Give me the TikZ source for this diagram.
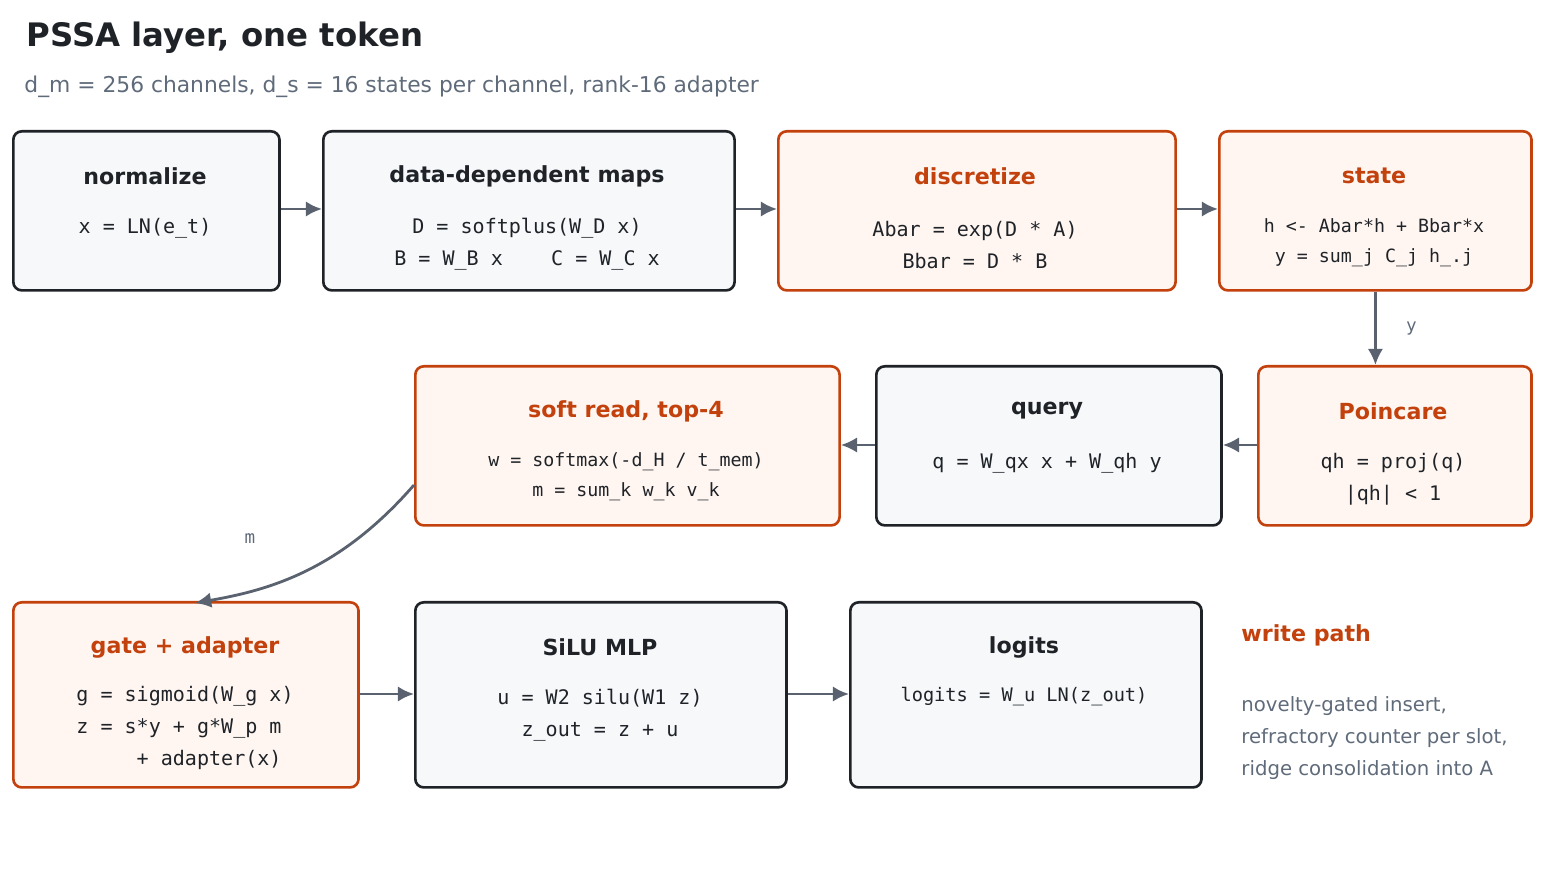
\documentclass[tikz,border=0pt]{standalone}
\usepackage{fontspec}
\setmainfont{DejaVu Sans}
\setmonofont{DejaVu Sans Mono}
\usetikzlibrary{arrows.meta}
\definecolor{ink}{HTML}{1F2328}
\definecolor{rust}{HTML}{C2410C}
\definecolor{rustbg}{HTML}{FFF6F1}
\definecolor{greybg}{HTML}{F6F8FA}
\definecolor{wire}{HTML}{5A6270}
\definecolor{muted}{HTML}{5F6B7A}
\tikzset{
  box/.style={draw=ink, fill=greybg, line width=0.75pt, rounded corners=2.4pt, anchor=north west, inner sep=0pt},
  hot/.style={box, draw=rust, fill=rustbg},
  head/.style={font=\bfseries\fontsize{6.3}{7}\selectfont, text=ink},
  hothead/.style={head, text=rust},
  code/.style={font=\ttfamily\fontsize{5.7}{9}\selectfont, text=ink, align=center},
  link/.style={draw=wire, line width=0.8pt, -{Latex[length=4.6pt,width=4.4pt]}},
  tag/.style={font=\ttfamily\fontsize{5}{6}\selectfont, text=muted}
}
\begin{document}
\begin{tikzpicture}[x=0.01cm, y=-0.01cm]
		\useasboundingbox (0,0) rectangle (1549,871);
		
		\node[anchor=west, font=\bfseries\fontsize{9.2}{11}\selectfont, text=ink] at (14, 38) {PSSA layer, one token};
		\node[anchor=west, font=\fontsize{6.2}{7}\selectfont, text=muted] at (12, 87) {d\_m = 256 channels, d\_s = 16 states per channel, rank-16 adapter};
		
		% row one
		\node[box, minimum width=2.66cm, minimum height=1.59cm] (norm) at (12, 130) {};
		\node[box, minimum width=4.11cm, minimum height=1.59cm] (maps) at (322, 130) {};
		\node[hot, minimum width=3.97cm, minimum height=1.59cm] (disc) at (777, 130) {};
		\node[hot, minimum width=3.12cm, minimum height=1.59cm] (state) at (1218, 130) {};
		
		\node[head] at (145, 176) {normalize};
		\node[code] at (145, 228) {x = LN(e\_t)};
		\node[head] at (527, 176) {data-dependent maps};
		\node[code] at (527, 244) {D = softplus(W\_D x)\\B = W\_B x \ \ \ C = W\_C x};
		\node[hothead] at (975, 176) {discretize};
		\node[code] at (975, 245) {Abar = exp(D * A)\\Bbar = D * B};
		\node[hothead] at (1374, 176) {state};
		\node[code, font=\ttfamily\fontsize{5.2}{8.5}\selectfont] at (1374, 243) {h <- Abar*h + Bbar*x\\y = sum\_j C\_j h\_.j};
		
		% row two
		\node[hot, minimum width=4.24cm, minimum height=1.59cm] (read) at (414, 365) {};
		\node[box, minimum width=3.45cm, minimum height=1.59cm] (query) at (875, 365) {};
		\node[hot, minimum width=2.73cm, minimum height=1.59cm] (poinc) at (1257, 365) {};
		
		\node[hothead] at (626, 411) {soft read, top-4};
		\node[code, font=\ttfamily\fontsize{5.2}{8.5}\selectfont] at (626, 477) {w = softmax(-d\_H / t\_mem)\\m = sum\_k w\_k v\_k};
		\node[head] at (1047, 411) {query};
		\node[code] at (1047, 463) {q = W\_qx x + W\_qh y};
		\node[hothead] at (1393, 411) {Poincare};
		\node[code] at (1393, 479) {qh = proj(q)\\|qh| < 1};
		
		% row three
		\node[hot, minimum width=3.45cm, minimum height=1.85cm] (gate) at (12, 601) {};
		\node[box, minimum width=3.71cm, minimum height=1.85cm] (mlp) at (414, 601) {};
		\node[box, minimum width=3.51cm, minimum height=1.85cm] (logit) at (849, 601) {};
		
		\node[hothead] at (185, 647) {gate + adapter};
		\node[code, align=left] at (185, 728) {g = sigmoid(W\_g x)\\z = s*y + g*W\_p m\\\ \ \ \ \ + adapter(x)};
		\node[head] at (600, 647) {SiLU MLP};
		\node[code] at (600, 715) {u = W2 silu(W1 z)\\z\_out = z + u};
		\node[head] at (1024, 647) {logits};
		\node[code, font=\ttfamily\fontsize{5.3}{6}\selectfont] at (1024, 697) {logits = W\_u LN(z\_out)};
		
		\node[anchor=west, font=\bfseries\fontsize{6.3}{7}\selectfont, text=rust] at (1229, 635) {write path};
		\node[anchor=north west, align=left, font=\fontsize{5.6}{9.1}\selectfont, text=muted] at (1229, 684) {novelty-gated insert,\\refractory counter per slot,\\ridge consolidation into A};
		
		% connectors
		\draw[link] (norm.east |- 0,209) -- (maps.west |- 0,209);
		\draw[link] (maps.east |- 0,209) -- (disc.west |- 0,209);
		\draw[link] (disc.east |- 0,209) -- (state.west |- 0,209);
		\draw[link] (state.south) -- node[tag, right=5pt] {y} (state.south |- poinc.north);
		\draw[link] (poinc.west |- 0,445) -- (query.east |- 0,445);
		\draw[link] (query.west |- 0,445) -- (read.east |- 0,445);
		\draw[link] (read.west |- 0,485) .. controls (340,570) and (270,590) .. (195,603);
		\node[tag] at (250, 539) {m};
		\draw[link] (gate.east |- 0,694) -- (mlp.west |- 0,694);
		\draw[link] (mlp.east |- 0,694) -- (logit.west |- 0,694);
	\end{tikzpicture}
\end{document}
